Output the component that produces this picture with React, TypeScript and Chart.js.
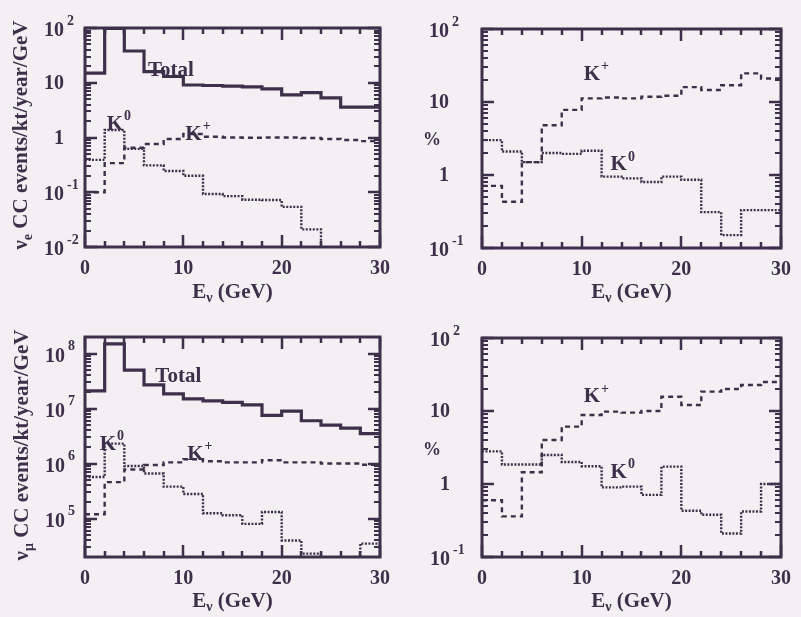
import React, { useEffect, useRef } from "react";
import { Chart, registerables } from "chart.js";

Chart.register(...registerables);

const INK = "#3e2f4a";
const PAPER = "#f4eff3";
const SERIF = '"Liberation Serif", "Times New Roman", serif';

// bin lower edges (GeV); every bin is 2 GeV wide, the axis ends at 30 GeV
const binEdges = [0, 2, 4, 6, 8, 10, 12, 14, 16, 18, 20, 22, 24, 26, 28];
const xEnd = 30;
const xTickLabels = [0, 10, 20, 30];

// Top-left: nu_e CC events / kt / year / GeV
const nueTotal = [15, 98, 38, 16, 13, 9.1, 8.9, 8.7, 8.4, 7.7, 6.0, 6.6, 5.3, 3.6, 3.6];
const nueKplus = [0.1, 0.34, 0.65, 0.76, 0.94, 1.16, 1.03, 1.0, 0.99, 1.0, 1.0, 0.98, 0.94, 0.9, 0.86];
const nueK0 = [0.39, 1.37, 0.62, 0.31, 0.245, 0.2, 0.093, 0.085, 0.073, 0.072, 0.054, 0.021, 0.005, 0.005, 0.005];

// Top-right: share of the nu_e total (%)
const nuePctKplus = [0.71, 0.43, 1.5, 4.8, 7.8, 11.2, 11.5, 11.2, 11.8, 12.2, 16, 14.6, 17, 24.7, 21];
const nuePctK0 = [3.0, 2.1, 1.5, 2.0, 1.95, 2.15, 0.95, 0.9, 0.8, 0.95, 0.86, 0.31, 0.15, 0.33, 0.33];

// Bottom-left: nu_mu CC events / kt / year / GeV
const numuTotal = [2.1e7, 1.5e8, 5.0e7, 2.7e7, 1.85e7, 1.5e7, 1.38e7, 1.3e7, 1.17e7, 7.5e6, 9.0e6, 6.0e6, 5.0e6, 4.4e6, 3.5e6];
const numuKplus = [1.2e5, 4.6e5, 7.8e5, 9.4e5, 1.05e6, 1.2e6, 1.1e6, 1.05e6, 1.05e6, 1.15e6, 1.05e6, 1.05e6, 1.0e6, 1.0e6, 0.95e6];
const numuK0 = [5.7e5, 2.3e6, 9.0e5, 6.6e5, 3.8e5, 2.8e5, 1.25e5, 1.15e5, 8.0e4, 1.32e5, 4.0e4, 2.3e4, 1.0e4, 1.0e4, 3.5e4];

// Bottom-right: share of the nu_mu total (%)
const numuPctKplus = [0.6, 0.36, 1.45, 4.0, 6.1, 8.8, 9.8, 9.5, 10, 15.7, 12.1, 18.4, 20, 22.7, 25];
const numuPctK0 = [2.8, 1.85, 1.85, 2.5, 2.0, 1.75, 0.9, 0.92, 0.71, 1.73, 0.43, 0.38, 0.21, 0.42, 1.0];

// y-axis decade labels (exponents)
const evtDecadesTop = [-2, -1, 0, 1, 2];
const evtDecadesBottom = [5, 6, 7, 8];
const pctDecades = [-1, 0, 1, 2];

type Style = "solid" | "dashed" | "dotted";
interface Note { text: string; sup?: string; x: number; y: number }
interface Panel {
  canvas: { left: number; top: number; width: number; height: number };
  area: { left: number; top: number; right: number; bottom: number };
  yMin: number;
  yMax: number;
  decades: number[];
  labelGap: number;
  yTitle: { kind: "rot"; sub: string; cx: number; cy: number } | { kind: "pct"; cx: number; cy: number };
  xTitleY: number;
  series: { data: number[]; style: Style }[];
  notes: Note[];
}

const panels: Panel[] = [
  {
    canvas: { left: 0, top: 0, width: 400, height: 308 },
    area: { left: 85, top: 28, right: 388, bottom: 247 },
    yMin: 0.01, yMax: 100, decades: evtDecadesTop, labelGap: 21,
    yTitle: { kind: "rot", sub: "e", cx: 22, cy: 135 },
    xTitleY: 293,
    series: [
      { data: nueTotal, style: "solid" },
      { data: nueKplus, style: "dashed" },
      { data: nueK0, style: "dotted" },
    ],
    notes: [
      { text: "Total", x: 6.4, y: 17 },
      { text: "K", sup: "0", x: 2.2, y: 1.7 },
      { text: "K", sup: "+", x: 10.2, y: 1.12 },
    ],
  },
  {
    canvas: { left: 400, top: 0, width: 401, height: 308 },
    area: { left: 482, top: 29, right: 786, bottom: 248 },
    yMin: 0.1, yMax: 100, decades: pctDecades, labelGap: 33,
    yTitle: { kind: "pct", cx: 432, cy: 140 },
    xTitleY: 293,
    series: [
      { data: nuePctKplus, style: "dashed" },
      { data: nuePctK0, style: "dotted" },
    ],
    notes: [
      { text: "K", sup: "+", x: 10.2, y: 24 },
      { text: "K", sup: "0", x: 12.9, y: 1.37 },
    ],
  },
  {
    canvas: { left: 0, top: 308, width: 400, height: 309 },
    area: { left: 85, top: 337, right: 387, bottom: 557 },
    yMin: 2e4, yMax: 2e8, decades: evtDecadesBottom, labelGap: 20,
    yTitle: { kind: "rot", sub: "μ", cx: 23, cy: 445 },
    xTitleY: 602,
    series: [
      { data: numuTotal, style: "solid" },
      { data: numuKplus, style: "dashed" },
      { data: numuK0, style: "dotted" },
    ],
    notes: [
      { text: "Total", x: 7.15, y: 3.8e7 },
      { text: "K", sup: "0", x: 1.5, y: 2.2e6 },
      { text: "K", sup: "+", x: 10.4, y: 1.45e6 },
    ],
  },
  {
    canvas: { left: 400, top: 308, width: 401, height: 309 },
    area: { left: 482, top: 338, right: 785, bottom: 557 },
    yMin: 0.1, yMax: 100, decades: pctDecades, labelGap: 32,
    yTitle: { kind: "pct", cx: 432, cy: 450 },
    xTitleY: 602,
    series: [
      { data: numuPctKplus, style: "dashed" },
      { data: numuPctK0, style: "dotted" },
    ],
    notes: [
      { text: "K", sup: "+", x: 10.2, y: 15.6 },
      { text: "K", sup: "0", x: 12.9, y: 1.42 },
    ],
  },
];

function steps(vals: number[]) {
  const pts = binEdges.map((x, i) => ({ x, y: vals[i] }));
  pts.push({ x: xEnd, y: vals[vals.length - 1] });
  return pts;
}

const font = (size: number) => `bold ${size}px ${SERIF}`;

function makeDecor(p: Panel) {
  return {
    id: "decor",
    afterDraw(chart: any) {
      const ctx: CanvasRenderingContext2D = chart.ctx;
      const xs = chart.scales.x;
      const ys = chart.scales.y;
      const ca = chart.chartArea;
      const left = ca.left, right = ca.right, top = ca.top, bottom = ca.bottom;
      const ox = p.canvas.left;
      const oy = p.canvas.top;
      ctx.save();
      ctx.strokeStyle = INK;
      ctx.fillStyle = INK;
      ctx.setLineDash([]);
      ctx.lineCap = "butt";

      // frame
      ctx.lineWidth = 3;
      ctx.strokeRect(left, top, right - left, bottom - top);

      // inward ticks on x (every 2 GeV, long at multiples of 10)
      ctx.lineWidth = 2.5;
      for (let v = 0; v <= xEnd; v += 2) {
        const px = Math.round(xs.getPixelForValue(v));
        const len = v % 10 === 0 ? 12 : 6;
        ctx.beginPath();
        ctx.moveTo(px, bottom);
        ctx.lineTo(px, bottom - len);
        ctx.moveTo(px, top);
        ctx.lineTo(px, top + len);
        ctx.stroke();
      }
      // inward ticks on y (log: long at decades, short at 2..9)
      const d0 = Math.floor(Math.log10(p.yMin));
      const d1 = Math.ceil(Math.log10(p.yMax));
      for (let d = d0; d <= d1; d++) {
        for (let m = 1; m <= 9; m++) {
          const v = m * Math.pow(10, d);
          if (v < p.yMin * 0.999 || v > p.yMax * 1.001) continue;
          const py = Math.round(ys.getPixelForValue(v));
          const len = m === 1 ? 12 : 6;
          ctx.lineWidth = m === 1 ? 2.5 : 2;
          ctx.beginPath();
          ctx.moveTo(left, py);
          ctx.lineTo(left + len, py);
          ctx.moveTo(right, py);
          ctx.lineTo(right - len, py);
          ctx.stroke();
        }
      }

      // y decade labels
      ctx.textBaseline = "middle";
      for (const d of p.decades) {
        const py = ys.getPixelForValue(Math.pow(10, d));
        const bx = left - p.labelGap;
        ctx.font = font(20);
        ctx.textAlign = "right";
        if (d === 0) {
          ctx.fillText("1", bx, py + 1);
        } else if (d === 1) {
          ctx.fillText("10", bx, py + 1);
        } else {
          ctx.fillText("10", bx, py + 3);
          ctx.font = font(14);
          ctx.textAlign = "left";
          ctx.fillText(String(d), bx + 3, py - 7);
        }
      }

      // series notes
      ctx.textAlign = "left";
      for (const n of p.notes) {
        const nx = xs.getPixelForValue(n.x);
        const ny = ys.getPixelForValue(n.y);
        ctx.font = font(21);
        ctx.fillText(n.text, nx, ny);
        if (n.sup) {
          const w = ctx.measureText(n.text).width;
          ctx.font = font(14);
          ctx.fillText(n.sup, nx + w + 1, ny - 8);
        }
      }

      // x title: E_nu (GeV)
      {
        const cx = (left + right) / 2;
        const cy = p.xTitleY - oy;
        ctx.font = font(21);
        const wE = ctx.measureText("E").width;
        const rest = " (GeV)";
        const wR = ctx.measureText(rest).width;
        ctx.font = font(14);
        const wS = ctx.measureText("ν").width;
        const x0 = cx - (wE + wS + wR) / 2;
        ctx.font = font(21);
        ctx.fillText("E", x0, cy);
        ctx.font = font(14);
        ctx.fillText("ν", x0 + wE, cy + 5);
        ctx.font = font(21);
        ctx.fillText(rest, x0 + wE + wS, cy);
      }

      // y title
      const t = p.yTitle;
      if (t.kind === "pct") {
        ctx.font = font(18);
        ctx.textAlign = "center";
        ctx.fillText("%", t.cx - ox, t.cy - oy);
      } else {
        ctx.translate(t.cx - ox, t.cy - oy);
        ctx.rotate(-Math.PI / 2);
        ctx.textAlign = "left";
        const rest = " CC events/kt/year/GeV";
        ctx.font = font(21);
        const wN = ctx.measureText("ν").width;
        const wR = ctx.measureText(rest).width;
        ctx.font = font(14);
        const wS = ctx.measureText(t.sub).width;
        const x0 = -(wN + wS + wR) / 2;
        ctx.font = font(21);
        ctx.fillText("ν", x0, 0);
        ctx.font = font(14);
        ctx.fillText(t.sub, x0 + wN, 6);
        ctx.font = font(21);
        ctx.fillText(rest, x0 + wN + wS, 0);
      }
      ctx.restore();
    },
  };
}

function PanelChart({ p }: { p: Panel }) {
  const ref = useRef<HTMLCanvasElement | null>(null);
  useEffect(() => {
    if (!ref.current) return;
    const c = p.canvas;
    const a = p.area;
    const chart = new Chart(ref.current, {
      type: "line",
      data: {
        datasets: p.series.map((s) => ({
          data: steps(s.data),
          stepped: "before" as const,
          borderColor: INK,
          borderWidth: s.style === "solid" ? 3.2 : 2.4,
          borderDash: s.style === "dashed" ? [5, 4] : s.style === "dotted" ? [2, 1.5] : [],
          pointRadius: 0,
          fill: false,
          tension: 0,
        })),
      },
      options: {
        responsive: false,
        animation: false,
        events: [],
        layout: {
          padding: {
            left: a.left - c.left,
            top: a.top - c.top,
            right: c.left + c.width - a.right,
            bottom: 0,
          },
        },
        plugins: { legend: { display: false }, tooltip: { enabled: false } },
        scales: {
          x: {
            type: "linear",
            min: 0,
            max: xEnd,
            position: "bottom",
            grid: { display: false, drawTicks: false },
            border: { display: false },
            afterBuildTicks: (s: any) => {
              s.ticks = xTickLabels.map((v) => ({ value: v }));
            },
            afterFit: (s: any) => {
              s.height = c.top + c.height - a.bottom;
            },
            ticks: {
              color: INK,
              font: { family: SERIF, size: 20, weight: "bold" },
              padding: 10,
              maxRotation: 0,
              autoSkip: false,
            },
          },
          y: {
            type: "logarithmic",
            min: p.yMin,
            max: p.yMax,
            display: false,
          },
        },
      },
      plugins: [makeDecor(p)],
    } as any);
    return () => chart.destroy();
  }, [p]);
  return (
    <canvas
      ref={ref}
      width={p.canvas.width}
      height={p.canvas.height}
      style={{
        position: "absolute",
        left: p.canvas.left,
        top: p.canvas.top,
        width: p.canvas.width,
        height: p.canvas.height,
      }}
    />
  );
}

export default function App() {
  return (
    <div
      style={{
        position: "fixed",
        left: 0,
        top: 0,
        width: 801,
        height: 617,
        background: PAPER,
        overflow: "hidden",
      }}
    >
      {panels.map((p, i) => (
        <PanelChart key={i} p={p} />
      ))}
    </div>
  );
}
